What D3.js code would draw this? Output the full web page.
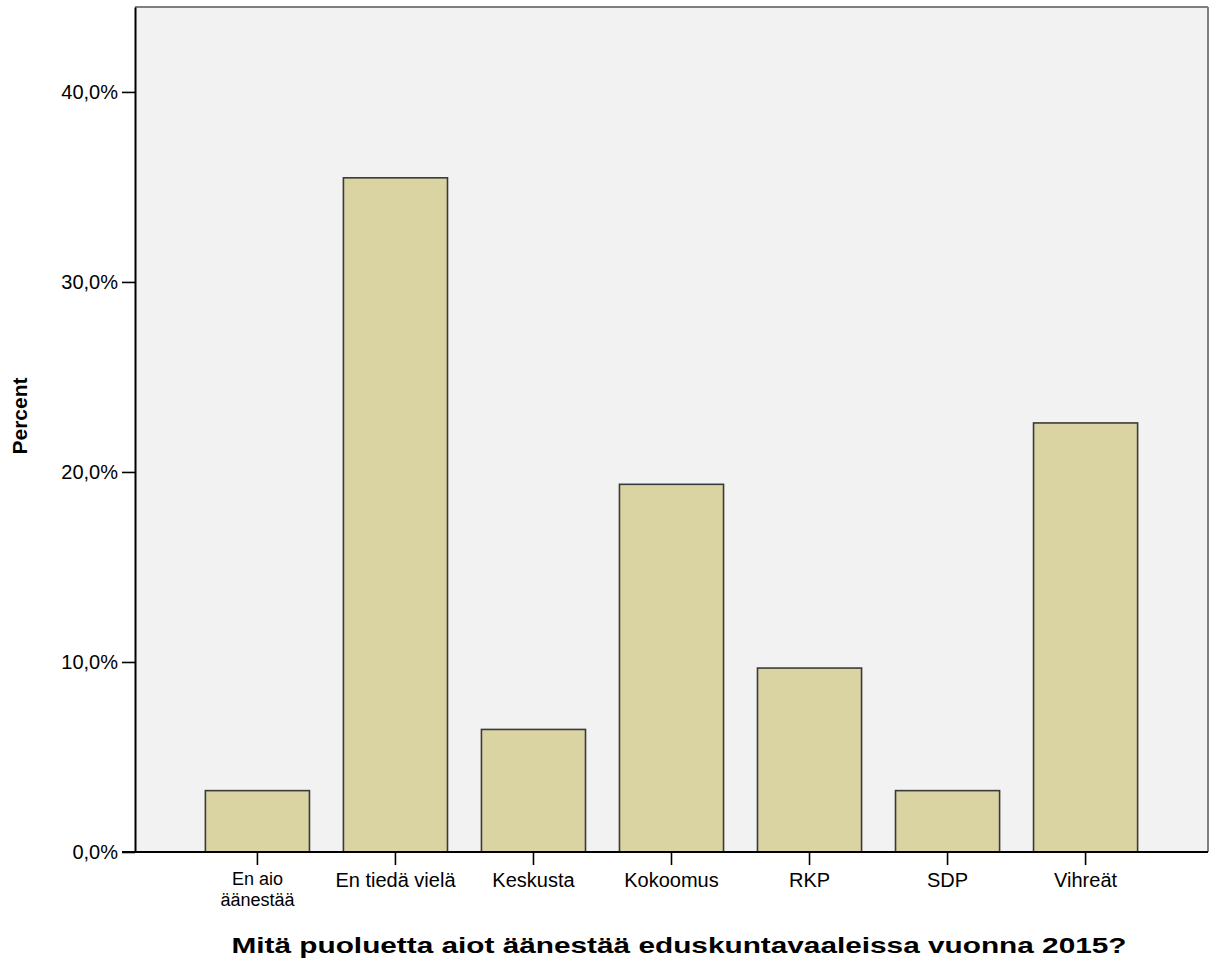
<!DOCTYPE html>
<html>
<head>
<meta charset="utf-8">
<script src="https://cdn.jsdelivr.net/npm/d3@7"></script>
<style>
  html, body { margin: 0; padding: 0; background: #ffffff; }
  svg { display: block; }
  text { font-family: "Liberation Sans", Arial, sans-serif; fill: #000; }
</style>
</head>
<body>
<svg id="chart" width="1214" height="968"></svg>
<script>
const categories = ["En aio|äänestää", "En tiedä vielä", "Keskusta", "Kokoomus", "RKP", "SDP", "Vihreät"];
const percentValues = [3.23, 35.48, 6.45, 19.35, 9.68, 3.23, 22.58];
const yTickValues = [0, 10, 20, 30, 40];
const yAxisTitle = "Percent";
const xAxisTitle = "Mitä puoluetta aiot äänestää eduskuntavaaleissa vuonna 2015?";

const svg = d3.select("#chart");
const plot = { left: 135, right: 1208, top: 7, bottom: 852 };

const x = d3.scaleBand()
  .domain(categories)
  .range([plot.left, plot.right])
  .paddingInner(0.246)
  .paddingOuter(0.51);

const y = d3.scaleLinear()
  .domain([0, 44.47])
  .range([plot.bottom, plot.top]);

const fiLocale = d3.formatLocale({ decimal: ",", thousands: " ", grouping: [3], currency: ["", "€"] });
const fmt = v => fiLocale.format(".1f")(v) + "%";

// plot background + frame
svg.append("rect")
  .attr("x", plot.left).attr("y", plot.top)
  .attr("width", plot.right - plot.left).attr("height", plot.bottom - plot.top)
  .attr("fill", "#f2f2f2")
  .attr("stroke", "none");
svg.append("line")
  .attr("x1", plot.left).attr("x2", plot.right)
  .attr("y1", plot.top).attr("y2", plot.top)
  .attr("stroke", "#7f7f7f").attr("stroke-width", 2);
svg.append("line")
  .attr("x1", plot.right).attr("x2", plot.right)
  .attr("y1", plot.top).attr("y2", plot.bottom)
  .attr("stroke", "#7f7f7f").attr("stroke-width", 2);

// bars
svg.append("g").selectAll("rect")
  .data(categories)
  .join("rect")
  .attr("x", d => x(d))
  .attr("y", (d, i) => y(percentValues[i]))
  .attr("width", x.bandwidth())
  .attr("height", (d, i) => y(0) - y(percentValues[i]))
  .attr("fill", "#dad4a3")
  .attr("stroke", "#3a3a3a")
  .attr("stroke-width", 1.6);

// y axis
const yAxis = d3.axisLeft(y).tickValues(yTickValues).tickFormat(fmt)
  .tickSizeInner(13).tickSizeOuter(0).tickPadding(4);
const gy = svg.append("g").attr("transform", `translate(${plot.left},0)`).call(yAxis);
gy.select(".domain").attr("stroke", "#000").attr("stroke-width", 2);
gy.selectAll(".tick line").attr("stroke", "#000").attr("stroke-width", 1.6);
gy.selectAll(".tick text")
  .attr("font-family", "Liberation Sans, Arial, sans-serif")
  .attr("font-size", 20)
  .attr("fill", "#111");

// x axis
const xAxis = d3.axisBottom(x).tickSizeInner(13).tickSizeOuter(0).tickPadding(4).tickFormat(() => "");
const gx = svg.append("g").attr("transform", `translate(0,${plot.bottom})`).call(xAxis);
gx.select(".domain").attr("stroke", "#000").attr("stroke-width", 2)
  .attr("d", `M${plot.left - 13},0H${plot.right}`);
gx.selectAll(".tick line").attr("stroke", "#000").attr("stroke-width", 1.6);
gx.selectAll(".tick text").remove();
gx.selectAll(".tick").each(function(d) {
  const lines = d.split("|");
  const multi = lines.length > 1;
  const t = d3.select(this).append("text")
    .attr("text-anchor", "middle")
    .attr("font-family", "Liberation Sans, Arial, sans-serif")
    .attr("font-size", multi ? 18 : 20)
    .attr("fill", "#111");
  lines.forEach((ln, i) => {
    t.append("tspan").attr("x", 0).attr("y", (multi ? 33 : 35) + i * 21).text(ln);
  });
});

// axis titles
svg.append("text")
  .attr("transform", `translate(27,416) rotate(-90)`)
  .attr("text-anchor", "middle")
  .attr("font-weight", "bold")
  .attr("font-size", 21)
  .text(yAxisTitle);

svg.append("text")
  .attr("x", 679).attr("y", 953)
  .attr("text-anchor", "middle")
  .attr("font-weight", "bold")
  .attr("font-size", 22)
  .attr("textLength", 895)
  .attr("lengthAdjust", "spacingAndGlyphs")
  .text(xAxisTitle);
</script>
</body>
</html>
